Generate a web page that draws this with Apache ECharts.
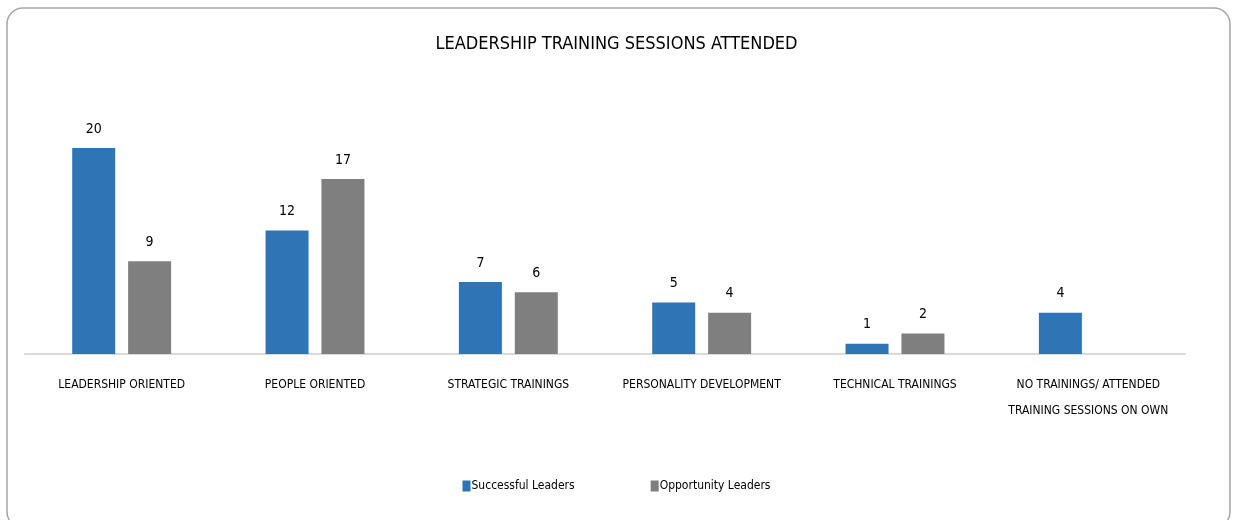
<!DOCTYPE html>
<html>
<head>
<meta charset="utf-8">
<script src="https://cdn.jsdelivr.net/npm/echarts@6/dist/echarts.min.js"></script>
<style>
  html, body { margin: 0; padding: 0; background: #fff; }
  #chart { width: 1233px; height: 520px; }
</style>
</head>
<body>
<div id="chart"></div>
<script>
// chart data
const categories = [
  'LEADERSHIP ORIENTED',
  'PEOPLE ORIENTED',
  'STRATEGIC TRAININGS',
  'PERSONALITY DEVELOPMENT',
  'TECHNICAL TRAININGS',
  'NO TRAININGS/ ATTENDED\nTRAINING SESSIONS ON OWN'
]
const successfulLeaders = [20, 12, 7, 5, 1, 4]
const opportunityLeaders = [9, 17, 6, 4, 2, null]

const FONT = '"Liberation Sans Narrow", "DejaVu Sans Condensed", "Roboto Condensed", sans-serif'

const chart = echarts.init(document.getElementById('chart'))

const labelStyle = {
  show: true,
  position: 'top',
  distance: 12,
  color: '#000',
  fontFamily: FONT,
  fontSize: 14
}

chart.setOption({
  animation: false,
  textStyle: { fontFamily: FONT },
  title: {
    text: 'LEADERSHIP TRAINING SESSIONS ATTENDED',
    left: 'center',
    top: 30,
    textStyle: {
      fontFamily: FONT,
      fontSize: 18,
      fontWeight: 'normal',
      color: '#000'
    }
  },
  legend: {
    bottom: 23,
    left: 'center',
    itemWidth: 8,
    itemHeight: 11,
    itemGap: 76,
    icon: 'rect',
    textStyle: { fontFamily: FONT, fontSize: 12, color: '#000', padding: [0, 0, 0, -4] },
    data: ['Successful Leaders', 'Opportunity Leaders']
  },
  grid: {
    left: 25,
    right: 48,
    top: 148,
    bottom: 166
  },
  xAxis: {
    type: 'category',
    data: categories,
    axisLine: { lineStyle: { color: '#d9d9d9', width: 2 } },
    axisTick: { show: false },
    axisLabel: {
      interval: 0,
      margin: 18,
      color: '#000',
      fontFamily: FONT,
      fontSize: 12,
      lineHeight: 26
    }
  },
  yAxis: {
    type: 'value',
    min: 0,
    max: 20,
    show: false
  },
  series: [
    {
      name: 'Successful Leaders',
      type: 'bar',
      barWidth: 43,
      barGap: '30%',
      data: successfulLeaders,
      itemStyle: { color: '#2E75B6' },
      label: labelStyle
    },
    {
      name: 'Opportunity Leaders',
      type: 'bar',
      barWidth: 43,
      data: opportunityLeaders,
      itemStyle: { color: '#7F7F7F' },
      label: labelStyle
    }
  ],
  graphic: [
    {
      type: 'rect',
      shape: { x: 7, y: 8, width: 1223, height: 520, r: 16 },
      style: { fill: null, stroke: '#a6a6a6', lineWidth: 1.5 },
      silent: true
    }
  ]
})
</script>
</body>
</html>
